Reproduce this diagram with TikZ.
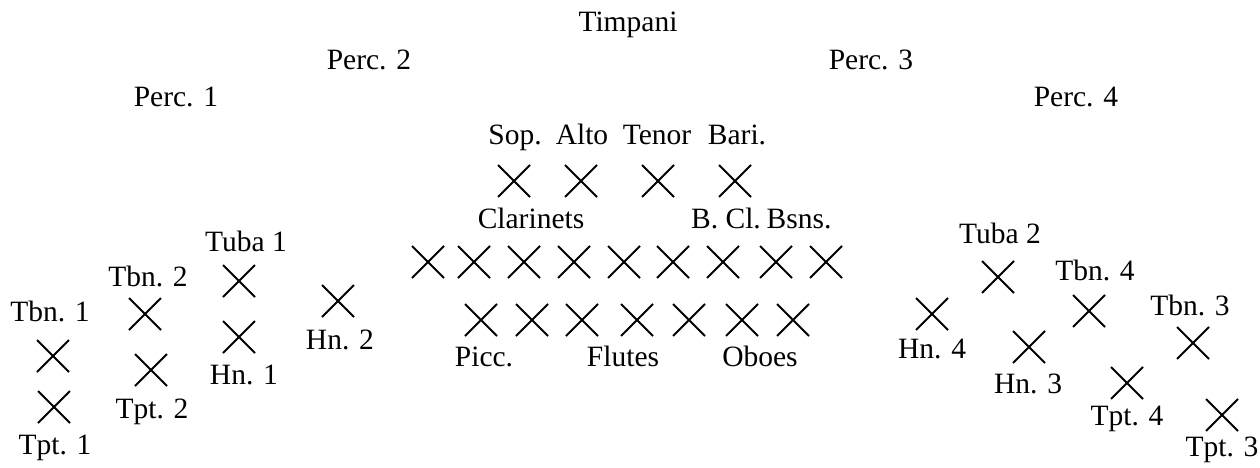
\documentclass[tikz,border=0pt]{standalone}
\usepackage{fontspec}
\setmainfont{Liberation Serif}
\usetikzlibrary{shapes}

\begin{document}
\begin{tikzpicture}[x = 0.4pt, y = -0.4pt]
            % Define styles
            \tikzstyle{seat} = [cross out, draw, minimum size = 12pt, inner sep = 0, line width = .8pt]
            \tikzstyle{lbl} = [inner sep = 0, text height = 7.8pt, text depth = 0pt, font = \fontsize{11.8pt}{14pt}\selectfont]
            \useasboundingbox (0,0) rectangle (1260,467);
            % Percussion
                \node (timp) at (628,22) [lbl] {Timpani};
                \node (perc2) at (369,60) [lbl] {Perc. 2};
                \node (perc3) at (871,60) [lbl] {Perc. 3};
                \node (perc1) at (176,97) [lbl] {Perc. 1};
                \node (perc4) at (1076,97) [lbl] {Perc. 4};
            % Saxophones
                \node (sopL) at (515,135) [lbl] {Sop.};
                \node (altoL) at (582,135) [lbl] {Alto};
                \node (tenL) at (657,135) [lbl] {Tenor};
                \node (bariL) at (737,135) [lbl] {Bari.};
                \node (sop) at (514,181) [seat] {};
                \node (alto) at (581,181) [seat] {};
                \node (ten) at (658,181) [seat] {};
                \node (bari) at (735,181) [seat] {};
            % Clarinets, bass clarinet, bassoons
                \node (clL) at (531,219) [lbl] {Clarinets};
                \node (bclL) at (726,219) [lbl] {B. Cl.};
                \node (bsnL) at (799,219) [lbl] {Bsns.};
                \foreach \x [count=\i] in {428,474,524,574,624,673,723,776,826}
                    \node (cl\i) at (\x,262) [seat] {};
            % Flutes and oboes
                \foreach \x [count=\i] in {481,532,582,637,689,742,793}
                    \node (fl\i) at (\x,320) [seat] {};
                \node (piccL) at (484,357) [lbl] {Picc.};
                \node (flL) at (623,357) [lbl] {Flutes};
                \node (obL) at (760,357) [lbl] {Oboes};
            % Brass, left side
                \node (tbn1L) at (50,312) [lbl] {Tbn. 1};
                \node (tbn1) at (53,356) [seat] {};
                \node (tpt1) at (54,407) [seat] {};
                \node (tpt1L) at (55,445) [lbl] {Tpt. 1};
                \node (tbn2L) at (148,277) [lbl] {Tbn. 2};
                \node (tbn2) at (145,314) [seat] {};
                \node (tpt2) at (151,370) [seat] {};
                \node (tpt2L) at (152,409) [lbl] {Tpt. 2};
                \node (tuba1L) at (246,242) [lbl] {Tuba 1};
                \node (tuba1) at (239,281) [seat] {};
                \node (hn1) at (239,337) [seat] {};
                \node (hn1L) at (244,375) [lbl] {Hn. 1};
                \node (hn2) at (338,301) [seat] {};
                \node (hn2L) at (340,340) [lbl] {Hn. 2};
            % Brass, right side
                \node (tuba2L) at (1000,234) [lbl] {Tuba 2};
                \node (tuba2) at (998,277) [seat] {};
                \node (hn4) at (932,314) [seat] {};
                \node (hn4L) at (932,349) [lbl] {Hn. 4};
                \node (hn3) at (1029,347) [seat] {};
                \node (hn3L) at (1028,384) [lbl] {Hn. 3};
                \node (tbn4L) at (1095,271) [lbl] {Tbn. 4};
                \node (tbn4) at (1089,311) [seat] {};
                \node (tbn3L) at (1190,306) [lbl] {Tbn. 3};
                \node (tbn3) at (1193,343) [seat] {};
                \node (tpt4) at (1127,383) [seat] {};
                \node (tpt4L) at (1127,416) [lbl] {Tpt. 4};
                \node (tpt3) at (1222,415) [seat] {};
                \node (tpt3L) at (1222,447) [lbl] {Tpt. 3};
\end{tikzpicture}
\end{document}
